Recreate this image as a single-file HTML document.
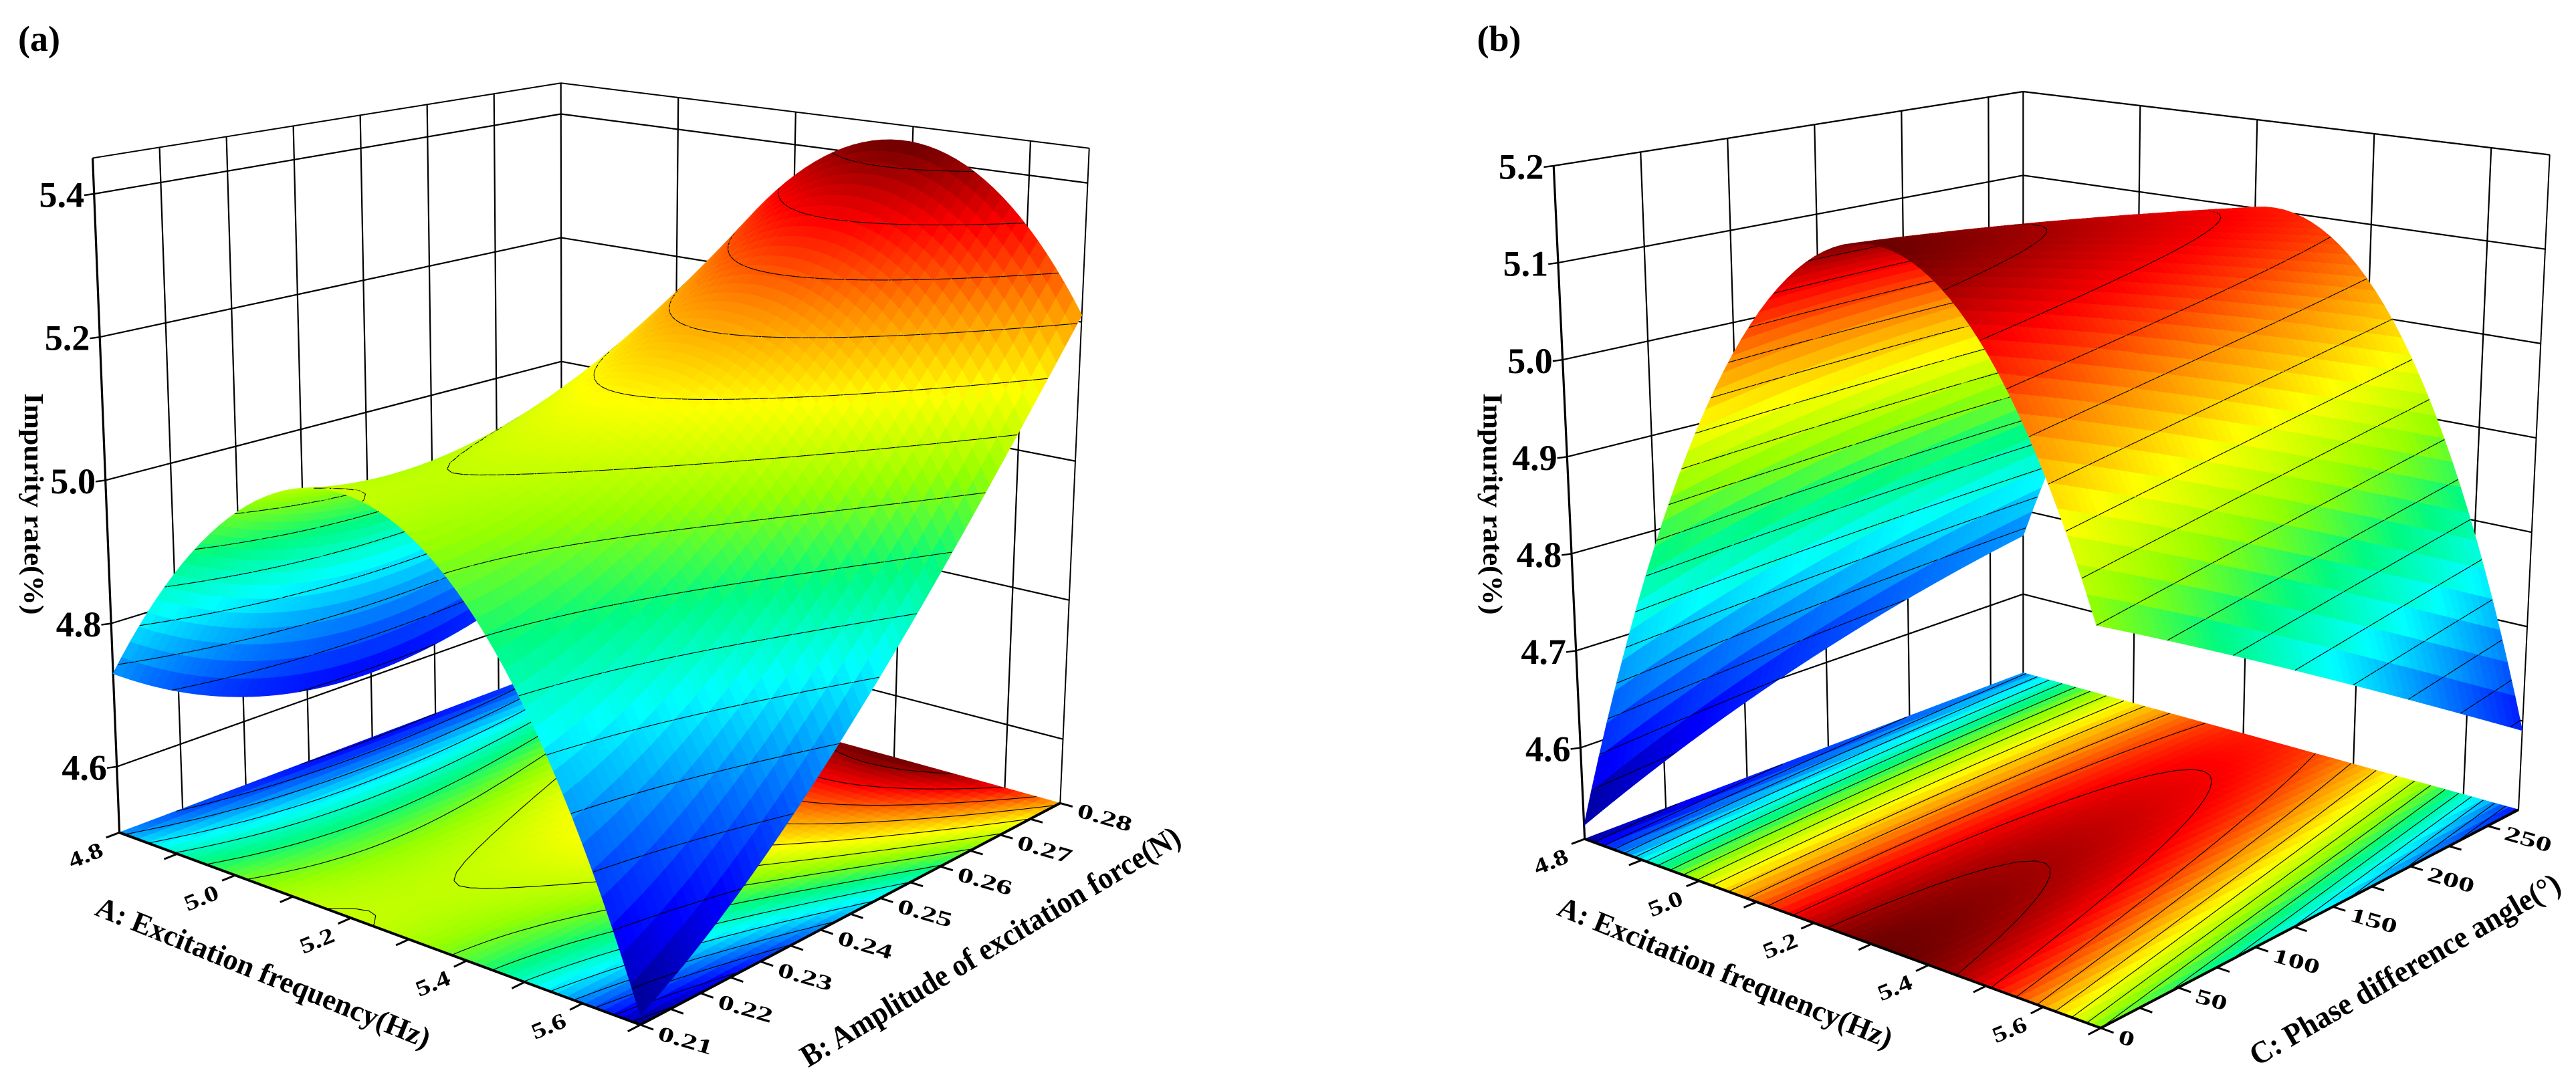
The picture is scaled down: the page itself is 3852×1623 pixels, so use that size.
<!DOCTYPE html>
<html><head><meta charset="utf-8"><title>Response surfaces</title>
<style>
html,body{margin:0;padding:0;background:#fff;}
svg{display:block;font-family:"Liberation Serif","DejaVu Serif",serif;font-weight:bold;}
</style></head>
<body>
<svg id="chart" xmlns="http://www.w3.org/2000/svg" width="3852" height="1623" viewBox="0 0 1568 661" preserveAspectRatio="none">
<rect x="0" y="0" width="1568" height="661" fill="#fff"/>
<text x="11" y="31" font-size="22">(a)</text>
<text x="899" y="31" font-size="22">(b)</text>
<g id="panelA"></g>
<g id="panelB"></g>
</svg>
<script>
// ---- data (response-surface model coefficients, normalized factors 0..1) ----
// Z = c0 + c1*a + c2*b + c3*a^2 + c4*a*b + c5*b^2
const coefA = [4.73, 1.56, -0.44, -1.77, 0.74, 0.39];
const coefB = [4.52, 2.25, 0.20, -1.89, -0.44, -0.05];
const freqRange = [4.8, 5.7];
const ampRange = [0.21, 0.28];
const phaseRange = [0, 270];
const zRangeA = [4.508, 5.45];
const zRangeB = [4.506, 5.2];
const zTicksA = [4.6, 4.8, 5.0, 5.2, 5.4];
const zTicksB = [4.6, 4.7, 4.8, 4.9, 5.0, 5.1, 5.2];
const freqTicks = [4.8, 4.9, 5.0, 5.1, 5.2, 5.3, 5.4, 5.5, 5.6, 5.7];
const freqLabels = ["4.8", "", "5.0", "", "5.2", "", "5.4", "", "5.6", ""];
const ampTicks = [0.21, 0.215, 0.22, 0.225, 0.23, 0.235, 0.24, 0.245, 0.25, 0.255, 0.26, 0.265, 0.27, 0.275, 0.28];
const ampLabels = ["0.21", "", "0.22", "", "0.23", "", "0.24", "", "0.25", "", "0.26", "", "0.27", "", "0.28"];
const phaseTicks = [0, 25, 50, 75, 100, 125, 150, 175, 200, 225, 250];
const phaseLabels = ["0", "", "50", "", "100", "", "150", "", "200", "", "250"];
const freqGrid = [5.0, 5.2, 5.4, 5.6];
const ampGrid = [0.22, 0.23, 0.24, 0.25, 0.26, 0.27];
const phaseGrid = [50, 100, 150, 200, 250];

const NS = 'http://www.w3.org/2000/svg';
const CMAP = [[0,[0,0,130]],[0.1,[0,0,255]],[0.22,[0,120,255]],[0.34,[0,255,255]],[0.45,[0,250,130]],
  [0.56,[150,255,0]],[0.67,[255,255,0]],[0.78,[255,140,0]],[0.89,[255,0,0]],[1,[105,0,0]]];
function cmap(t){
  t = Math.max(0, Math.min(1, t));
  for (let i = 1; i < CMAP.length; i++) {
    if (t <= CMAP[i][0]) {
      const [t0,c0] = CMAP[i-1], [t1,c1] = CMAP[i];
      const f = (t - t0) / (t1 - t0);
      return 'rgb(' + c0.map((c,k)=>Math.round(c + (c1[k]-c)*f)).join(',') + ')';
    }
  }
  return 'rgb(105,0,0)';
}
function model(coef, a, b){
  return coef[0] + coef[1]*a + coef[2]*b + coef[3]*a*a + coef[4]*a*b + coef[5]*b*b;
}
function el(parent, tag, attrs){
  const e = document.createElementNS(NS, tag);
  for (const k in attrs) e.setAttribute(k, attrs[k]);
  parent.appendChild(e);
  return e;
}

function renderPanel(g, cfg){
  const C = cfg.corners;
  const lerp = (p, q, t) => [p[0] + (q[0]-p[0])*t, p[1] + (q[1]-p[1])*t];
  function P(u, v, w){
    const bl = (A,B,R,K) => {
      const f0 = lerp(A, B, u), f1 = lerp(K, R, u);
      return lerp(f0, f1, v);
    };
    const lo = bl(C.L0, C.F0, C.R0, C.K0), hi = bl(C.L1, C.F1, C.R1, C.K1);
    return lerp(lo, hi, w);
  }
  const zr = cfg.zRange;
  const wOf = z => (z - zr[0]) / (zr[1] - zr[0]);
  const uOf = x => (x - cfg.uRange[0]) / (cfg.uRange[1] - cfg.uRange[0]);
  const vOf = x => (x - cfg.vRange[0]) / (cfg.vRange[1] - cfg.vRange[0]);
  const pts = arr => arr.map(p => p[0].toFixed(2) + ',' + p[1].toFixed(2)).join(' ');
  function line(parent, p, q, sw, name){
    const l = el(parent, 'line', {x1:p[0].toFixed(2), y1:p[1].toFixed(2), x2:q[0].toFixed(2), y2:q[1].toFixed(2), stroke:'#000', 'stroke-width':sw});
    
    
    return l;
  }

  const walls = el(g, 'g', {});
  
  
  cfg.zTicks.forEach(z => {
    const w = wOf(z);
    line(walls, P(0,0,w), P(0,1,w), 0.9, 'left-wall-gridline');
    line(walls, P(0,1,w), P(1,1,w), 0.9, 'right-wall-gridline');
  });
  cfg.vGrid.forEach(x => { const v = vOf(x); line(walls, P(0,v,0), P(0,v,1), 0.9, 'left-wall-gridline'); });
  cfg.uGrid.forEach(x => { const u = uOf(x); line(walls, P(u,1,0), P(u,1,1), 0.9, 'right-wall-gridline'); });
  line(walls, P(0,0,1), P(0,1,1), 0.8, 'top-edge');
  line(walls, P(0,1,1), P(1,1,1), 0.8, 'top-edge');
  line(walls, P(0,1,0), P(0,1,1), 0.9, 'back-edge');
  line(walls, P(1,1,0), P(1,1,1), 0.8, 'right-edge');
  line(walls, P(0,0,0), P(0,0,1), 1.3, 'z-axis-line');

  const N = 56;
  const Z = [];
  let zmin = Infinity, zmax = -Infinity;
  for (let i = 0; i <= N; i++) { Z.push([]); for (let j = 0; j <= N; j++) {
    const z = model(cfg.coef, i/N, j/N); Z[i].push(z);
    zmin = Math.min(zmin, z); zmax = Math.max(zmax, z);
  } }
  const tOf = z => (z - zmin) / (zmax - zmin);
  const levels = [];
  for (let L = Math.ceil(zmin / cfg.step) * cfg.step; L < zmax; L += cfg.step) levels.push(L);

  function cellSegs(i, j){
    const c = [[i,j,Z[i][j]],[i+1,j,Z[i+1][j]],[i+1,j+1,Z[i+1][j+1]],[i,j+1,Z[i][j+1]]];
    const out = [];
    levels.forEach(L => {
      const hits = [];
      for (let e = 0; e < 4; e++) {
        const p = c[e], q = c[(e+1)%4];
        if ((p[2] - L) * (q[2] - L) < 0) {
          const f = (L - p[2]) / (q[2] - p[2]);
          hits.push([(p[0] + (q[0]-p[0])*f)/N, (p[1] + (q[1]-p[1])*f)/N, L]);
        }
      }
      if (hits.length >= 2) out.push([hits[0], hits[1]]);
      if (hits.length === 4) out.push([hits[2], hits[3]]);
    });
    return out;
  }

  const floor = el(g, 'g', {});
  
  
  const floorLines = [];
  for (let i = 0; i < N; i++) for (let j = 0; j < N; j++) {
    const zc = (Z[i][j] + Z[i+1][j] + Z[i+1][j+1] + Z[i][j+1]) / 4;
    const col = cmap(tOf(zc));
    const poly = el(floor, 'polygon', {points: pts([P(i/N,j/N,0), P((i+1)/N,j/N,0), P((i+1)/N,(j+1)/N,0), P(i/N,(j+1)/N,0)]), fill: col, stroke: col, 'stroke-width': 0.4});
    
    
    cellSegs(i, j).forEach(s => floorLines.push(s));
  }
  floorLines.forEach(s => {
    line(floor, P(s[0][0], s[0][1], 0), P(s[1][0], s[1][1], 0), 0.45, 'floor-contour-line');
  });

  const cells = [];
  for (let i = 0; i < N; i++) for (let j = 0; j < N; j++) {
    const zc = (Z[i][j] + Z[i+1][j] + Z[i+1][j+1] + Z[i][j+1]) / 4;
    const uc = (i+0.5)/N, vc = (j+0.5)/N;
    cells.push({i, j, zc, d: (1-uc) + vc - 0.8*wOf(zc)});
  }
  cells.sort((a, b) => b.d - a.d);
  const surf = el(g, 'g', {});
  
  
  cells.forEach(c => {
    const {i, j} = c;
    const col = cmap(tOf(c.zc));
    const poly = el(surf, 'polygon', {points: pts([P(i/N,j/N,wOf(Z[i][j])), P((i+1)/N,j/N,wOf(Z[i+1][j])), P((i+1)/N,(j+1)/N,wOf(Z[i+1][j+1])), P(i/N,(j+1)/N,wOf(Z[i][j+1]))]), fill: col, stroke: col, 'stroke-width': 0.4});
    
    
    cellSegs(i, j).forEach(s => {
      line(surf, P(s[0][0], s[0][1], wOf(s[0][2])), P(s[1][0], s[1][1], wOf(s[1][2])), 0.45, 'surface-contour-line');
    });
  });

  const ax = el(g, 'g', {});
  
  
  line(ax, P(0,0,0), P(1,0,0), 1.6, 'x-axis-line');
  line(ax, P(1,0,0), P(1,1,0), 1.6, 'y-axis-line');
  cfg.zTicks.forEach(z => {
    const w = wOf(z), p = P(0,0,w);
    line(ax, p, [p[0]-6, p[1]+0.8], 1, 'z-tick');
    const t = el(ax, 'text', {x: (p[0]-6).toFixed(1), y: (p[1]+8).toFixed(1), 'font-size': 22, 'text-anchor': 'end'});
    
    
    t.textContent = z.toFixed(1);
  });
  cfg.uTicks.forEach((x, k) => {
    const u = uOf(x), p = P(u,0,0), q = P(u,-0.03,0);
    line(ax, p, q, 1.2, 'x-tick');
    if (cfg.uLabels[k]) {
      const t = el(ax, 'text', {x: 0, y: 0, 'font-size': 15, 'text-anchor': 'middle', transform: 'translate(' + (p[0]-19).toFixed(1) + ',' + (p[1]+18).toFixed(1) + ') rotate(-22) scale(1.15,0.9)'});
      
      
      t.textContent = cfg.uLabels[k];
    }
  });
  cfg.vTicks.forEach((x, k) => {
    const v = vOf(x), p = P(1,v,0), q = P(1.025,v,0);
    line(ax, p, q, 1.2, 'y-tick');
    if (cfg.vLabels[k]) {
      const t = el(ax, 'text', {x: 0, y: 0, 'font-size': 15, 'text-anchor': 'start', transform: 'translate(' + (q[0]+2).toFixed(1) + ',' + (q[1]+6).toFixed(1) + ') rotate(16) scale(1.3,0.85)'});
      
      
      t.textContent = cfg.vLabels[k];
    }
  });
  const ts = cfg.titles;
  [[ts.z, 'z-axis-title'], [ts.u, 'x-axis-title'], [ts.v, 'y-axis-title']].forEach(([o, nm]) => {
    const t = el(ax, 'text', {x: 0, y: 0, 'font-size': o.fs, 'text-anchor': 'middle', textLength: o.len, lengthAdjust: 'spacingAndGlyphs', transform: 'translate(' + o.x + ',' + o.y + ') rotate(' + o.r + ')'});
    
    
    t.textContent = o.text;
  });
}

renderPanel(document.getElementById('panelA'), {
  corners: {L0:[72.7,507.2], L1:[56.4,96.3], F0:[389.8,624.3], F1:[385,167], R0:[645.3,489.3], R1:[663,90.3], K0:[342,405.6], K1:[341.4,50.6]},
  coef: coefA, zRange: zRangeA, uRange: freqRange, vRange: ampRange, step: 0.065,
  zTicks: zTicksA, uGrid: freqGrid, vGrid: ampGrid,
  uTicks: freqTicks, uLabels: freqLabels, vTicks: ampTicks, vLabels: ampLabels,
  titles: {
    z: {text: 'Impurity rate(%)', x: 15, y: 307, r: 90, fs: 17, len: 135},
    u: {text: 'A: Excitation frequency(Hz)', x: 158, y: 598, r: 22, fs: 18, len: 218},
    v: {text: 'B: Amplitude of excitation force(N)', x: 606, y: 582, r: -31, fs: 19, len: 266}
  }
});
renderPanel(document.getElementById('panelB'), {
  corners: {L0:[964.6,511.1], L1:[945.7,101], F0:[1278.7,626.3], F1:[1274,171], R0:[1533,493.3], R1:[1552,94.3], K0:[1231.5,409.9], K1:[1231.5,55.8]},
  coef: coefB, zRange: zRangeB, uRange: freqRange, vRange: phaseRange, step: 0.04,
  zTicks: zTicksB, uGrid: freqGrid, vGrid: phaseGrid,
  uTicks: freqTicks, uLabels: freqLabels, vTicks: phaseTicks, vLabels: phaseLabels,
  titles: {
    z: {text: 'Impurity rate(%)', x: 903, y: 307, r: 90, fs: 17, len: 135},
    u: {text: 'A: Excitation frequency(Hz)', x: 1048, y: 598, r: 22, fs: 18, len: 218},
    v: {text: 'C: Phase difference angle(°)', x: 1467, y: 596, r: -30, fs: 19, len: 215}
  }
});
</script>
</body></html>
